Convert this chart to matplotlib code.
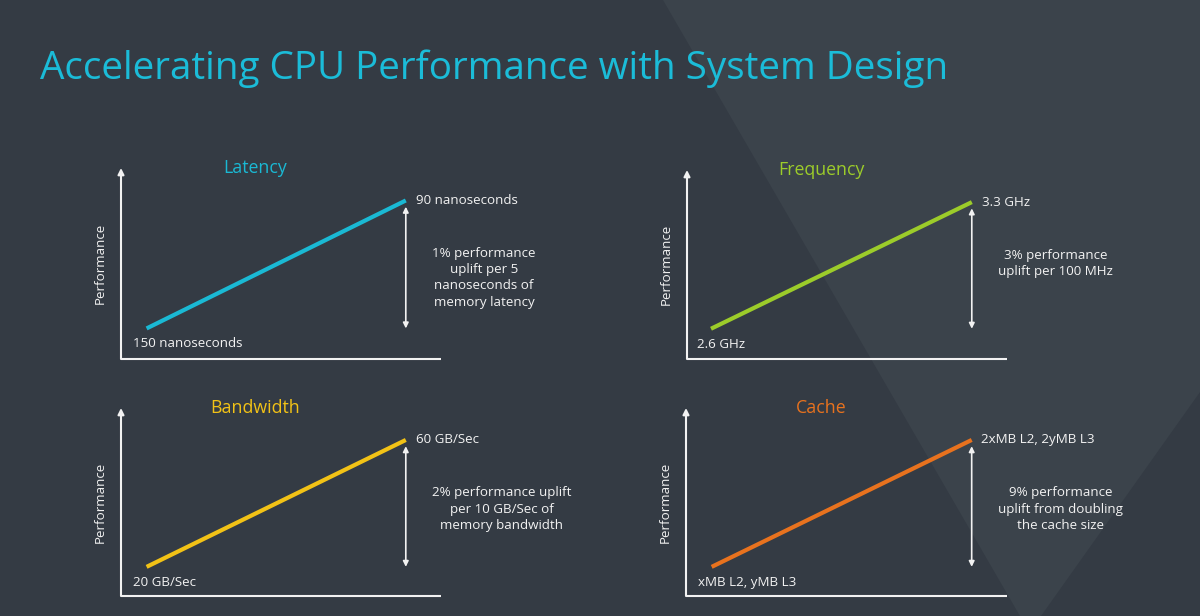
import matplotlib.pyplot as plt
from matplotlib.patches import Polygon

plt.rcParams['font.family'] = ['Open Sans', 'DejaVu Sans']

title = "Accelerating CPU Performance with System Design"

metrics = ["Latency", "Frequency", "Bandwidth", "Cache"]
metric_colors = ["#1ab9d4", "#9ccc2a", "#f2c216", "#e8721e"]
low_labels = ["150 nanoseconds", "2.6 GHz", "20 GB/Sec", "xMB L2, yMB L3"]
high_labels = ["90 nanoseconds", "3.3 GHz", "60 GB/Sec", "2xMB L2, 2yMB L3"]
uplift_notes = [
    "1% performance\nuplift per 5\nnanoseconds of\nmemory latency",
    "3% performance\nuplift per 100 MHz",
    "2% performance uplift\nper 10 GB/Sec of\nmemory bandwidth",
    "9% performance\nuplift from doubling\nthe cache size",
]

# schematic values (relative units): setting on x, performance on y
setting_before = [0.08, 0.075, 0.08, 0.08]
setting_after = [0.89, 0.89, 0.89, 0.89]
perf_before = [0.16, 0.16, 0.155, 0.155]
perf_after = [0.83, 0.83, 0.83, 0.83]

W, H = 1200, 616
bg = "#343b44"
white = "#f2f2f2"

fig = plt.figure(figsize=(W / 100, H / 100), dpi=100, facecolor=bg)

# background with the lighter slanted shape on the right
bgax = fig.add_axes([0, 0, 1, 1])
bgax.set_xlim(0, W)
bgax.set_ylim(H, 0)
bgax.axis('off')
bgax.add_patch(Polygon([(663, 0), (W, 0), (W, 392), (1041, H), (1020, H)],
                       closed=True, facecolor="#3b434b", edgecolor='none'))

fig.text(40 / W, 1 - 79 / H, title, ha='left', va='baseline',
         fontsize=27.8, color="#1bbcd8")

# panel boxes in pixels: left, top, width, height
boxes = [(121, 168, 320, 191), (687, 170, 320, 189),
         (121, 408, 320, 188), (686, 408, 321, 188)]

for i, name in enumerate(metrics):
    left, top, w, h = boxes[i]
    ax = fig.add_axes([left / W, (H - top - h) / H, w / W, h / H])
    ax.set_xlim(0, 1)
    ax.set_ylim(0, 1)
    ax.axis('off')
    ax.patch.set_alpha(0)

    # axes
    ax.plot([0, 1], [0, 0], color=white, lw=1.5, clip_on=False,
            solid_capstyle='butt')
    ax.annotate("", xy=(0, 1), xytext=(0, 0),
                arrowprops=dict(arrowstyle='-|>', color=white, lw=1.5,
                                mutation_scale=9, shrinkA=0, shrinkB=0))

    sb, sa = setting_before[i], setting_after[i]
    pb, pa = perf_before[i], perf_after[i]
    c = metric_colors[i]

    ax.plot([sb, sa], [pb, pa], color=c, lw=3, solid_capstyle='butt')

    # uplift double arrow
    ax.annotate("", xy=(sa, pb), xytext=(sa, pa),
                arrowprops=dict(arrowstyle='<|-|>', color=white, lw=1.2,
                                mutation_scale=8, shrinkA=4.5, shrinkB=0))

    ax.annotate(high_labels[i], xy=(sa, pa), xytext=(7, 0),
                textcoords='offset points', ha='left', va='center',
                fontsize=9.6, color=white)
    ax.annotate(low_labels[i], xy=(sb, pb), xytext=(-10, -11),
                textcoords='offset points', ha='left', va='center',
                fontsize=9.6, color=white)
    ax.annotate(uplift_notes[i], xy=(sa, pa), xytext=(19, -33.5),
                textcoords='offset points', ha='left', va='top',
                multialignment='center', fontsize=9.6, color=white,
                linespacing=1.32)

    ax.text(0.42, 1.0, name, transform=ax.transAxes, ha='center',
            va='center', fontsize=12.8, color=c)
    ax.annotate("Performance", xy=(0, 0.5), xycoords='axes fraction',
                xytext=(-15, 0), textcoords='offset points', rotation=90,
                ha='center', va='center', fontsize=9.6, color=white)

fig.savefig("out.png", dpi=100, facecolor=bg)
